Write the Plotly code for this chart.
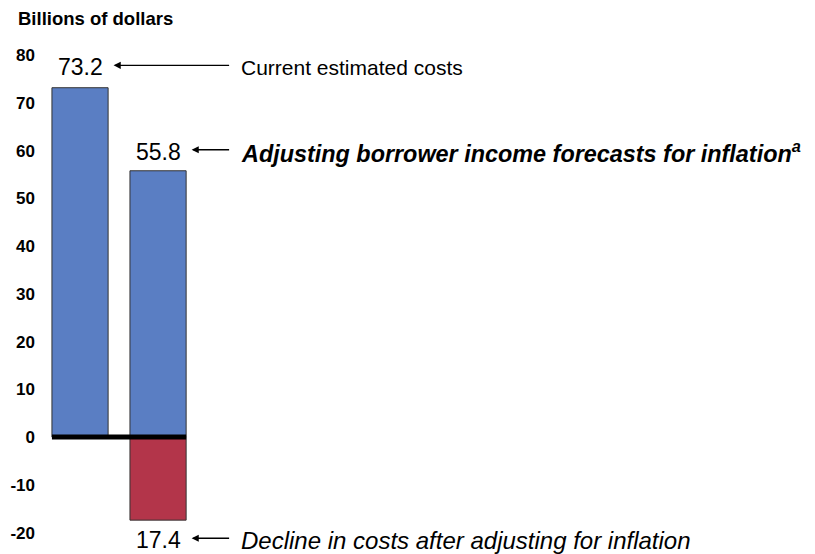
import plotly.graph_objects as go

categories = [0, 1]
bar_values = [73.2, 55.8]
decline_values = [-17.4]
decline_x = [1]
labels = ["Current estimated costs",
          "<b><i>Adjusting borrower income forecasts for inflation<sup>a</sup></i></b>",
          "<i>Decline in costs after adjusting for inflation</i>"]
label_sizes = [21, 23.4, 24]
tick_vals = [-20, -10, 0, 10, 20, 30, 40, 50, 60, 70, 80]
tick_text = [str(v) for v in tick_vals]

BLUE = "#5A7EC3"
RED = "#B3354A"
FONT = "Liberation Sans, Arial, sans-serif"
BW = 0.72

fig = go.Figure()
fig.add_trace(go.Bar(x=categories, y=bar_values, width=BW,
                     marker=dict(color=BLUE, line=dict(color="#333333", width=1)),
                     hoverinfo="skip"))
fig.add_trace(go.Bar(x=decline_x, y=decline_values, width=BW,
                     marker=dict(color=RED, line=dict(color="#333333", width=1)),
                     hoverinfo="skip"))

# zero baseline
fig.add_shape(type="line", x0=categories[0] - BW / 2, x1=categories[-1] + BW / 2,
              y0=0, y1=0, line=dict(color="black", width=5), layer="above")

points = [(categories[0], bar_values[0], 4.3),
          (categories[1], bar_values[1], 4.0),
          (decline_x[0], decline_values[0], -4.2)]
for (xc, v, off), lab, fs in zip(points, labels, label_sizes):
    yl = v + off
    fig.add_annotation(x=xc, y=yl, text=f"{abs(v):.1f}", showarrow=False,
                       xanchor="center", yanchor="middle",
                       font=dict(family=FONT, size=23, color="black"))
    fig.add_annotation(x=xc + 0.43, y=yl + 0.4, ax=1.93, ay=yl + 0.4, axref="x", ayref="y",
                       text="", showarrow=True, arrowhead=2, arrowsize=1.1,
                       arrowwidth=1.3, arrowcolor="black")
    fig.add_annotation(x=2.04, y=yl, text=lab, showarrow=False,
                       xanchor="left", yanchor="middle",
                       font=dict(family=FONT, size=fs, color="black"))

fig.add_annotation(xref="paper", yref="paper", x=-0.031, y=1.042, text="<b>Billions of dollars</b>",
                   showarrow=False, xanchor="left", yanchor="middle",
                   font=dict(family=FONT, size=18.5, color="black"))

fig.update_layout(
    width=807, height=546,
    margin=dict(l=32, r=0, t=32, b=10),
    paper_bgcolor="white", plot_bgcolor="white",
    barmode="overlay", showlegend=False,
    xaxis=dict(range=[-0.513, 9.42], visible=False, fixedrange=True),
    yaxis=dict(range=[-22.4, 83.2], tickvals=tick_vals, ticktext=tick_text,
               showgrid=False, zeroline=False, showline=False, ticks="",
               tickfont=dict(family=FONT, size=17, color="black", weight="bold"),
               ticklabelstandoff=4, fixedrange=True, automargin=False),
)

fig.write_html("out.html")
